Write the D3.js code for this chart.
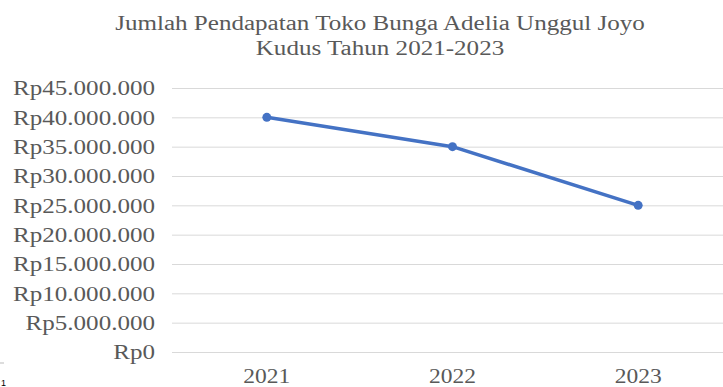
<!DOCTYPE html>
<html><head><meta charset="utf-8">
<script src="https://cdn.jsdelivr.net/npm/d3@7"></script>
<style>body{margin:0;background:#fff}svg{display:block}</style>
</head><body>
<script>
const years = ["2021","2022","2023"];
const pendapatan = [40000000, 35000000, 25000000];
const yTicks = [0,5000000,10000000,15000000,20000000,25000000,30000000,35000000,40000000,45000000];
const titleLines = ["Jumlah Pendapatan Toko Bunga Adelia Unggul Joyo","Kudus Tahun 2021-2023"];

const W=723,H=387;
const svg=d3.select("body").append("svg").attr("width",W).attr("height",H);
const x=d3.scaleBand().domain(years).range([174,731]);
const y=d3.scaleLinear().domain([0,45000000]).range([352,88]);
const fmt=v=>"Rp"+d3.format(",")(v).replace(/,/g,".");
const font="'Liberation Serif','Times New Roman',serif";
const col="#595959";

// title
const tg=svg.append("g");
const tt=tg.selectAll("text").data(titleLines).join("text")
 .attr("text-anchor","middle").style("font-family",font).style("font-size","20px")
 .attr("fill",col).text(d=>d);
const sT=530/tt.nodes()[0].getComputedTextLength();
tt.attr("x",0).attr("y",0).attr("transform",(d,i)=>`translate(380,${30+i*25}) scale(${sT},1)`);

// y axis + grid
const ya=svg.append("g").attr("transform","translate(172,0)")
 .call(d3.axisLeft(y).tickValues(yTicks).tickSize(-(W-172)).tickFormat(fmt));
ya.select(".domain").remove();
ya.selectAll(".tick line").attr("stroke","#d9d9d9").attr("stroke-width",1);
const yt=ya.selectAll(".tick text").style("font-family",font).style("font-size","21px").attr("fill",col);
let maxL=0; yt.each(function(d){if(d===45000000) maxL=this.getComputedTextLength();});
const sY=142/maxL;
yt.attr("x",0).attr("dy","0.33em").attr("transform",`translate(-17,0) scale(${sY},1)`);

// x axis
const xa=svg.append("g").attr("transform","translate(0,352)")
 .call(d3.axisBottom(x).tickSize(0));
xa.select(".domain").remove();
const xt=xa.selectAll(".tick text").style("font-family",font).style("font-size","20px").attr("fill",col);
const sX=47/xt.nodes()[0].getComputedTextLength();
xt.attr("y",0).attr("dy",0).attr("transform",`translate(0,31) scale(${sX},1)`);

// line + markers
const cx=d=>x(d)+x.bandwidth()/2;
const data=years.map((d,i)=>({k:d,v:pendapatan[i]}));
svg.append("path").datum(data).attr("fill","none").attr("stroke","#4472c4").attr("stroke-width",3.5)
 .attr("stroke-linejoin","round").attr("d",d3.line().x(d=>cx(d.k)).y(d=>y(d.v)));
svg.append("g").selectAll("circle").data(data).join("circle")
 .attr("cx",d=>cx(d.k)).attr("cy",d=>y(d.v)).attr("r",4.5).attr("fill","#4472c4");

// page marks
svg.append("text").attr("x",1).attr("y",386).style("font-family","'Liberation Sans',Arial,sans-serif")
 .style("font-size","9px").attr("fill","#000").text("1");
svg.append("line").attr("x1",0).attr("x2",4).attr("y1",363).attr("y2",363).attr("stroke","#bbb");
</script>
</body></html>
